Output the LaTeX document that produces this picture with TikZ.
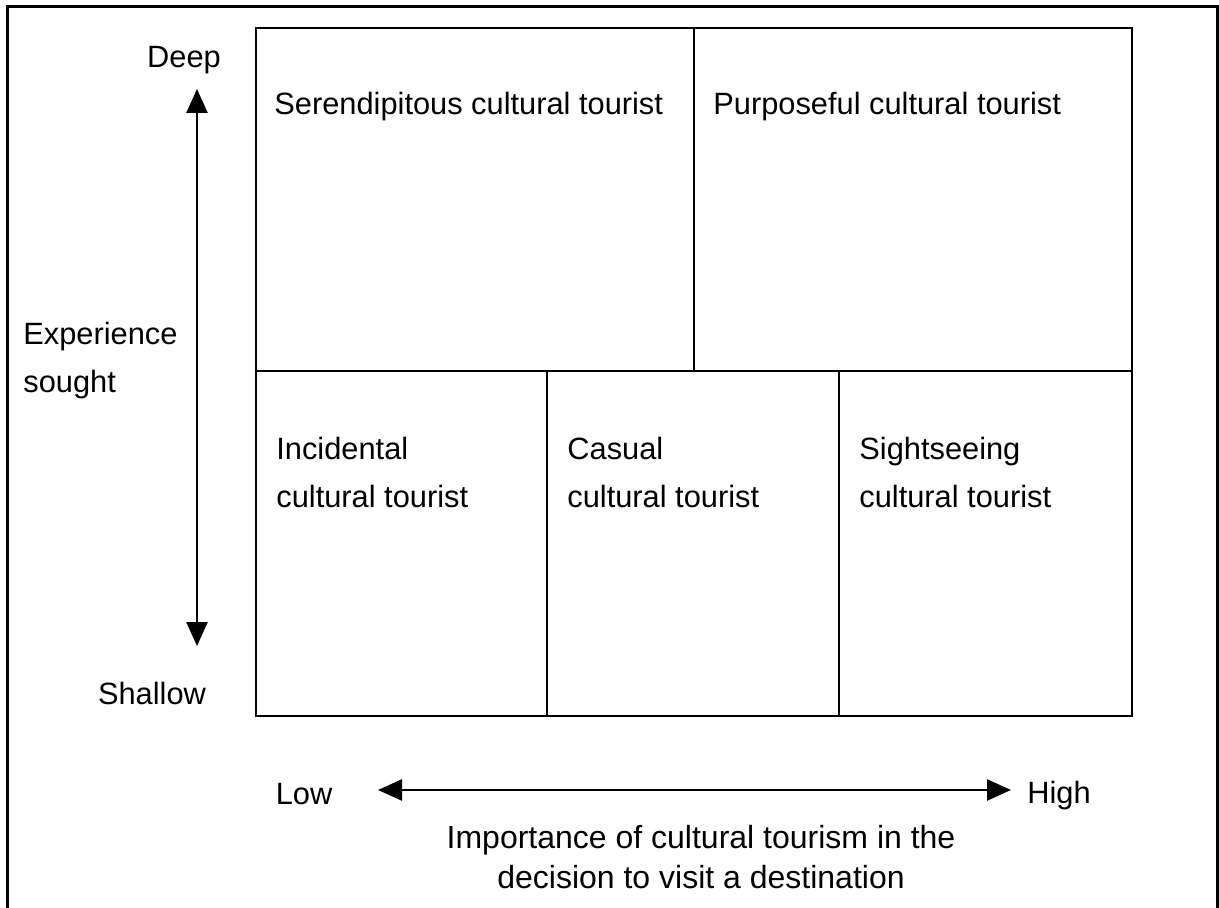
\documentclass[tikz,border=0pt]{standalone}
\usepackage{fontspec}
\setmainfont{Liberation Sans}
\usetikzlibrary{positioning, arrows.meta}

\begin{document}
\begin{tikzpicture}[
        x=0.5pt, y=-0.5pt,
        every node/.style={font=\fontsize{15.4}{24}\selectfont, inner sep=0pt},
        cell/.style={draw, rectangle, line width=1.4pt, outer sep=0pt},
        tag/.style={anchor=north west, align=left},
        axis/.style={{Triangle[length=12pt,width=10.5pt]}-{Triangle[length=12pt,width=10.5pt]}, line width=1.3pt}
    ]

    \useasboundingbox (0,0) rectangle (1219,908);
    \draw[line width=1.5pt] (7,908) -- (7,7) -- (1217,7) -- (1217,908);

    \node[cell, minimum width=219pt, minimum height=171.5pt, anchor=north west] (serendipitous) at (256,28) {};
    \node[cell, minimum width=219pt, minimum height=171.5pt, right=0pt of serendipitous] (purposeful) {};

    \node[cell, minimum width=145.5pt, minimum height=172.5pt, anchor=north west] (incidental) at (serendipitous.south west) {};
    \node[cell, minimum width=146pt, minimum height=172.5pt, right=0pt of incidental] (casual) {};
    \node[cell, minimum width=146.5pt, minimum height=172.5pt, right=0pt of casual] (sightseeing) {};

    \node[tag] (serendipitous_text) at ([shift={(18,64)}]serendipitous.north west) {Serendipitous cultural tourist};
    \node[tag] (purposeful_text) at ([shift={(19,64)}]purposeful.north west) {Purposeful cultural tourist};
    \node[tag] (incidental_text) at ([shift={(20,66)}]incidental.north west) {Incidental\\cultural tourist};
    \node[tag] (casual_text) at ([shift={(20,66)}]casual.north west) {Casual\\cultural tourist};
    \node[tag] (sightseeing_text) at ([shift={(20,66)}]sightseeing.north west) {Sightseeing\\cultural tourist};

    \node[anchor=base] (deep) at (184,68) {Deep};
    \node[anchor=base] (shallow) at (152,704) {Shallow};
    \node[tag] (experience) at (23,322) {Experience\\sought};

    \node[anchor=base] (low) at (304,804) {Low};
    \node[anchor=base] (high) at (1059,803) {High};
    \node[anchor=north, align=center, font=\fontsize{16}{20}\selectfont] (importance) at (701,825) {Importance of cultural tourism in the\\decision to visit a destination};

    \coordinate (deep_end) at (197,89);
    \coordinate (shallow_end) at (197,646);
    \coordinate (low_end) at (378,790);
    \coordinate (high_end) at (1011,790);

    \draw[axis] (deep_end) -- (shallow_end);
    \draw[axis] (low_end) -- (high_end);

\end{tikzpicture}
\end{document}
